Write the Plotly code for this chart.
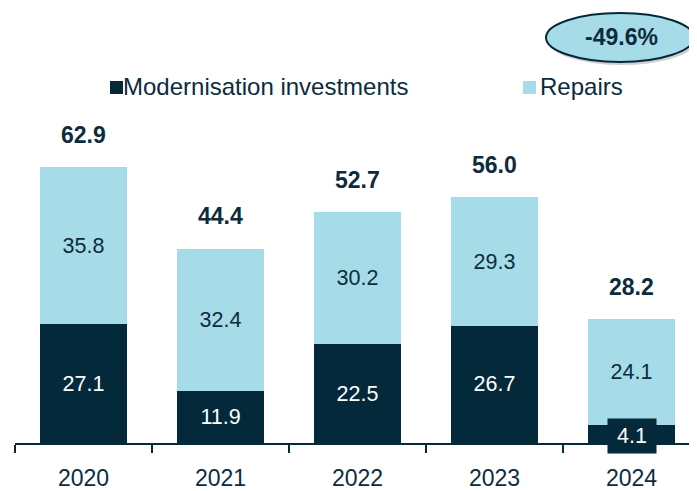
import plotly.graph_objects as go

years = ["2020", "2021", "2022", "2023", "2024"]
modernisation = [27.1, 11.9, 22.5, 26.7, 4.1]
repairs = [35.8, 32.4, 30.2, 29.3, 24.1]
totals = [62.9, 44.4, 52.7, 56.0, 28.2]
series_names = ["Modernisation investments", "Repairs"]
change_label = "-49.6%"

DARK = "#03293B"
LIGHT = "#A6DCE8"
TEXT = "#0D2B3D"
FONT = "Liberation Sans, Arial, sans-serif"

# page body has an 8px margin; work in page pixels and convert
OFF = 8
W, H = 697 - OFF, 491 - OFF
PLOT_L, PLOT_B = 15, 443          # page px
ML, MR, MT, MB = PLOT_L - OFF, 0, 0, 491 - PLOT_B
PW, PH = W - ML - MR, H - MT - MB
YMAX = PH / 4.388


def px2x(px):
    return (px - PLOT_L) / PW


def px2y(py):
    return (PLOT_B - py) / PH


mod_text = [f"{v:.1f}" if v >= 8 else "" for v in modernisation]

fig = go.Figure()
fig.add_trace(go.Bar(
    x=years, y=modernisation, name=series_names[0], marker_color=DARK,
    marker_line_width=0, text=mod_text, textposition="inside",
    insidetextanchor="middle", constraintext="none",
    textfont=dict(color="white", size=21.5, family=FONT), hoverinfo="skip",
))
fig.add_trace(go.Bar(
    x=years, y=repairs, name=series_names[1], marker_color=LIGHT,
    marker_line_width=0, text=[f"{v:.1f}" for v in repairs], textposition="inside",
    insidetextanchor="middle", constraintext="none",
    textfont=dict(color=TEXT, size=21.5, family=FONT), hoverinfo="skip",
))

annotations = []
for i, t in enumerate(totals):
    annotations.append(dict(x=i, y=t, xref="x", yref="y", text=f"<b>{t:.1f}</b>",
                            showarrow=False, yshift=32, xanchor="center", yanchor="middle",
                            font=dict(size=23, color=TEXT, family=FONT)))

# small value label with its own box
for i, v in enumerate(modernisation):
    if v < 8:
        annotations.append(dict(x=i, y=v / 2, xref="x", yref="y", text=f"{v:.1f}",
                                showarrow=False, bgcolor=DARK, width=46, height=32,
                                yshift=-2, xanchor="center", yanchor="middle",
                                font=dict(size=21.5, color="white", family=FONT)))

# legend
legend_items = [(series_names[0], DARK, 110, 121), (series_names[1], LIGHT, 523, 538)]
shapes = []
for name, col, sx, tx in legend_items:
    shapes.append(dict(type="rect", xref="paper", yref="paper",
                       x0=px2x(sx), x1=px2x(sx + 13), y0=px2y(94), y1=px2y(81),
                       fillcolor=col, line_width=0))
    annotations.append(dict(x=px2x(tx), y=px2y(87), xref="paper", yref="paper",
                            text=name, showarrow=False, xanchor="left", yanchor="middle",
                            font=dict(size=24, color=TEXT, family=FONT)))

# ellipse callout
shapes.append(dict(type="circle", xref="paper", yref="paper",
                   x0=px2x(548), x1=px2x(696), y0=px2y(65), y1=px2y(16),
                   fillcolor="rgba(0,0,0,0.18)", line_width=0))
shapes.append(dict(type="circle", xref="paper", yref="paper",
                   x0=px2x(546), x1=px2x(694), y0=px2y(62), y1=px2y(13),
                   fillcolor=LIGHT, line=dict(color=DARK, width=2)))
annotations.append(dict(x=px2x(621), y=px2y(37), xref="paper", yref="paper",
                        text=f"<b>{change_label}</b>", showarrow=False,
                        xanchor="center", yanchor="middle",
                        font=dict(size=23, color=TEXT, family=FONT)))

fig.update_layout(
    width=W, height=H, barmode="stack", bargap=0.37,
    margin=dict(l=ML, r=MR, t=MT, b=MB, pad=0, autoexpand=False),
    paper_bgcolor="white", plot_bgcolor="white",
    showlegend=False,
    uniformtext=dict(minsize=21, mode="show"),
    font=dict(family=FONT, color=TEXT),
    annotations=annotations, shapes=shapes,
    xaxis=dict(type="category", range=[-0.5, -0.5 + PW / 137.0],
               automargin=False,
               showline=True, linecolor=DARK, linewidth=2,
               ticks="outside", tickson="boundaries", ticklen=8,
               tickcolor=DARK, tickwidth=2, showgrid=False,
               ticklabelstandoff=13,
               tickfont=dict(size=23, color=TEXT, family=FONT)),
    yaxis=dict(range=[0, YMAX], visible=False, showgrid=False, zeroline=False,
               automargin=False),
)

fig.write_html("out.html")
